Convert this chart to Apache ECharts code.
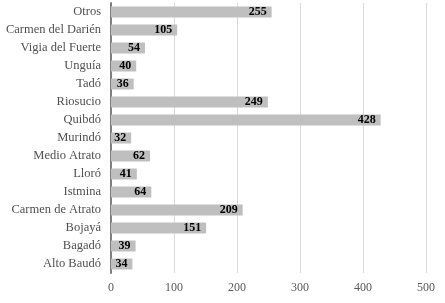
<!DOCTYPE html>
<html><head><meta charset="utf-8">
<script src="https://cdn.jsdelivr.net/npm/echarts@6/dist/echarts.min.js"></script>
<style>html,body{margin:0;padding:0;background:#fff}#c{width:445px;height:303px}</style>
</head><body><div id="c"></div>
<script>
const categories = ["Alto Baudó","Bagadó","Bojayá","Carmen de Atrato","Istmina","Lloró","Medio Atrato","Murindó","Quibdó","Riosucio","Tadó","Unguía","Vigia del Fuerte","Carmen del Darién","Otros"];
const values = [34,39,151,209,64,41,62,32,428,249,36,40,54,105,255];
const xTicks = [0,100,200,300,400,500];
const chart = echarts.init(document.getElementById('c'), null, {renderer:'canvas'});
const serif = '"Liberation Serif","Times New Roman",serif';
chart.setOption({
  animation:false,
  grid:{left:111,right:19,top:3,bottom:30,containLabel:false},
  xAxis:{type:'value',min:0,max:500,interval:100,
    axisLine:{show:false},axisTick:{show:false},
    splitLine:{lineStyle:{color:'#d9d9d9',width:1}},
    axisLabel:{color:'#595959',fontFamily:serif,fontSize:12,margin:9,
      formatter:v=>xTicks.includes(v)?String(v):''}},
  yAxis:{type:'category',data:categories,
    axisLine:{show:true,lineStyle:{color:'#7f7f7f',width:2}},
    axisTick:{show:false},
    axisLabel:{color:'#505050',fontFamily:serif,fontSize:12.5,margin:10}},
  series:[{type:'bar',data:values,barWidth:11,
    itemStyle:{color:'#bfbfbf'},
    label:{show:true,position:'insideRight',distance:5,color:'#000',fontWeight:'bold',fontFamily:serif,fontSize:12}}]
});
</script></body></html>
